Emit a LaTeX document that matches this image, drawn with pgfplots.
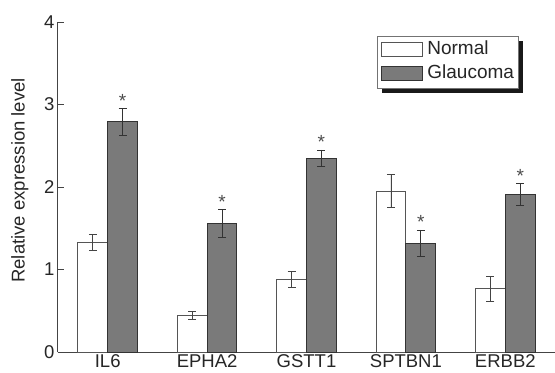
\documentclass[border=0pt]{standalone}
\usepackage{pgfplots}
\pgfplotsset{compat=1.18}
\usepackage{fontspec}
\setmainfont{Liberation Sans}
\usetikzlibrary{shadows}
\definecolor{axgray}{HTML}{444444}
\definecolor{glau}{HTML}{7A7A7A}
\definecolor{glauedge}{HTML}{333333}
\definecolor{normedge}{HTML}{555555}
\newcommand{\legbox}[2]{{\setlength{\fboxsep}{0pt}\setlength{\fboxrule}{1pt}\raisebox{-1pt}{\fcolorbox{#1}{#2}{\rule{0pt}{13pt}\hspace{40pt}}}}}
\begin{document}
\begin{tikzpicture}
\begin{axis}[
  name=ax,
  scale only axis,
  width=497pt, height=330pt,
  xmin=-0.5, xmax=4.5, ymin=0, ymax=4,
  axis lines*=left,
  axis line style={axgray, line width=1pt},
  font=\fontsize{18.5}{22}\selectfont,
  /pgf/number format/assume math mode=true,
  ytick={0,1,2,3,4},
  ytick style={axgray, line width=0.8pt},
  tick align=inside,
  major tick length=6pt,
  xtick={0,1,2,3,4},
  xticklabels={IL6,EPHA2,GSTT1,SPTBN1,ERBB2},
  xtick style={draw=none},
  extra x ticks={0.5,1.5,2.5,3.5,4.5},
  extra x tick labels={},
  extra x tick style={tick style={draw=axgray, line width=0.8pt}, major tick length=4pt},
  tick label style={text=black!85},
  xticklabel style={yshift=1pt},
  ylabel={Relative expression level},
  every axis y label/.style={at={(axis description cs:-0.077,0.52)}, rotate=90, anchor=center, font=\fontsize{18.5}{22}\selectfont, text=black!85},
  clip=false,
]
\addplot[ybar, bar width=0.3, bar shift=0pt, fill=white, draw=normedge, line width=1pt,
  error bars/.cd, y dir=both, y explicit,
  error bar style={axgray, line width=0.7pt}, error mark options={axgray, line width=0.7pt, mark size=4pt, rotate=90}]
coordinates {(-0.15,1.33)+-(0,0.10) (0.85,0.44)+-(0,0.05) (1.85,0.88)+-(0,0.10) (2.85,1.95)+-(0,0.20) (3.85,0.77)+-(0,0.15)};
\addplot[ybar, bar width=0.3, bar shift=0pt, fill=glau, draw=glauedge, line width=1pt,
  error bars/.cd, y dir=both, y explicit,
  error bar style={glauedge, line width=0.7pt}, error mark options={glauedge, line width=0.7pt, mark size=4pt, rotate=90}]
coordinates {(0.15,2.79)+-(0,0.16) (1.15,1.56)+-(0,0.17) (2.15,2.35)+-(0,0.10) (3.15,1.32)+-(0,0.16) (4.15,1.91)+-(0,0.13)};
\addplot[draw=none, mark=none, forget plot,
  nodes near coords={*}, every node near coord/.style={anchor=base, yshift=1pt, inner sep=0pt, font=\fontsize{19}{20}\selectfont, text=black!70}]
coordinates {(0.15,2.95) (1.15,1.73) (2.15,2.45) (3.15,1.48) (4.15,2.04)};
\node[anchor=north west, draw=black!55, line width=0.6pt, fill=white,
  inner xsep=4pt, inner ysep=3pt,
  general shadow={fill=black!90, shadow xshift=5pt, shadow yshift=-5pt},
  font=\fontsize{19}{22}\selectfont, text=black!85]
  at (rel axis cs:0.642,0.958)
  {\begin{tabular}{@{}l@{\hspace{4pt}}l@{}}
    \legbox{normedge}{white} & Normal\\[2pt]
    \legbox{glauedge}{glau} & Glaucoma
   \end{tabular}};
\end{axis}
\pgfresetboundingbox
\useasboundingbox ([xshift=-58pt,yshift=-20pt]ax.south west) rectangle ([yshift=22pt]ax.north east);
\end{tikzpicture}
\end{document}
